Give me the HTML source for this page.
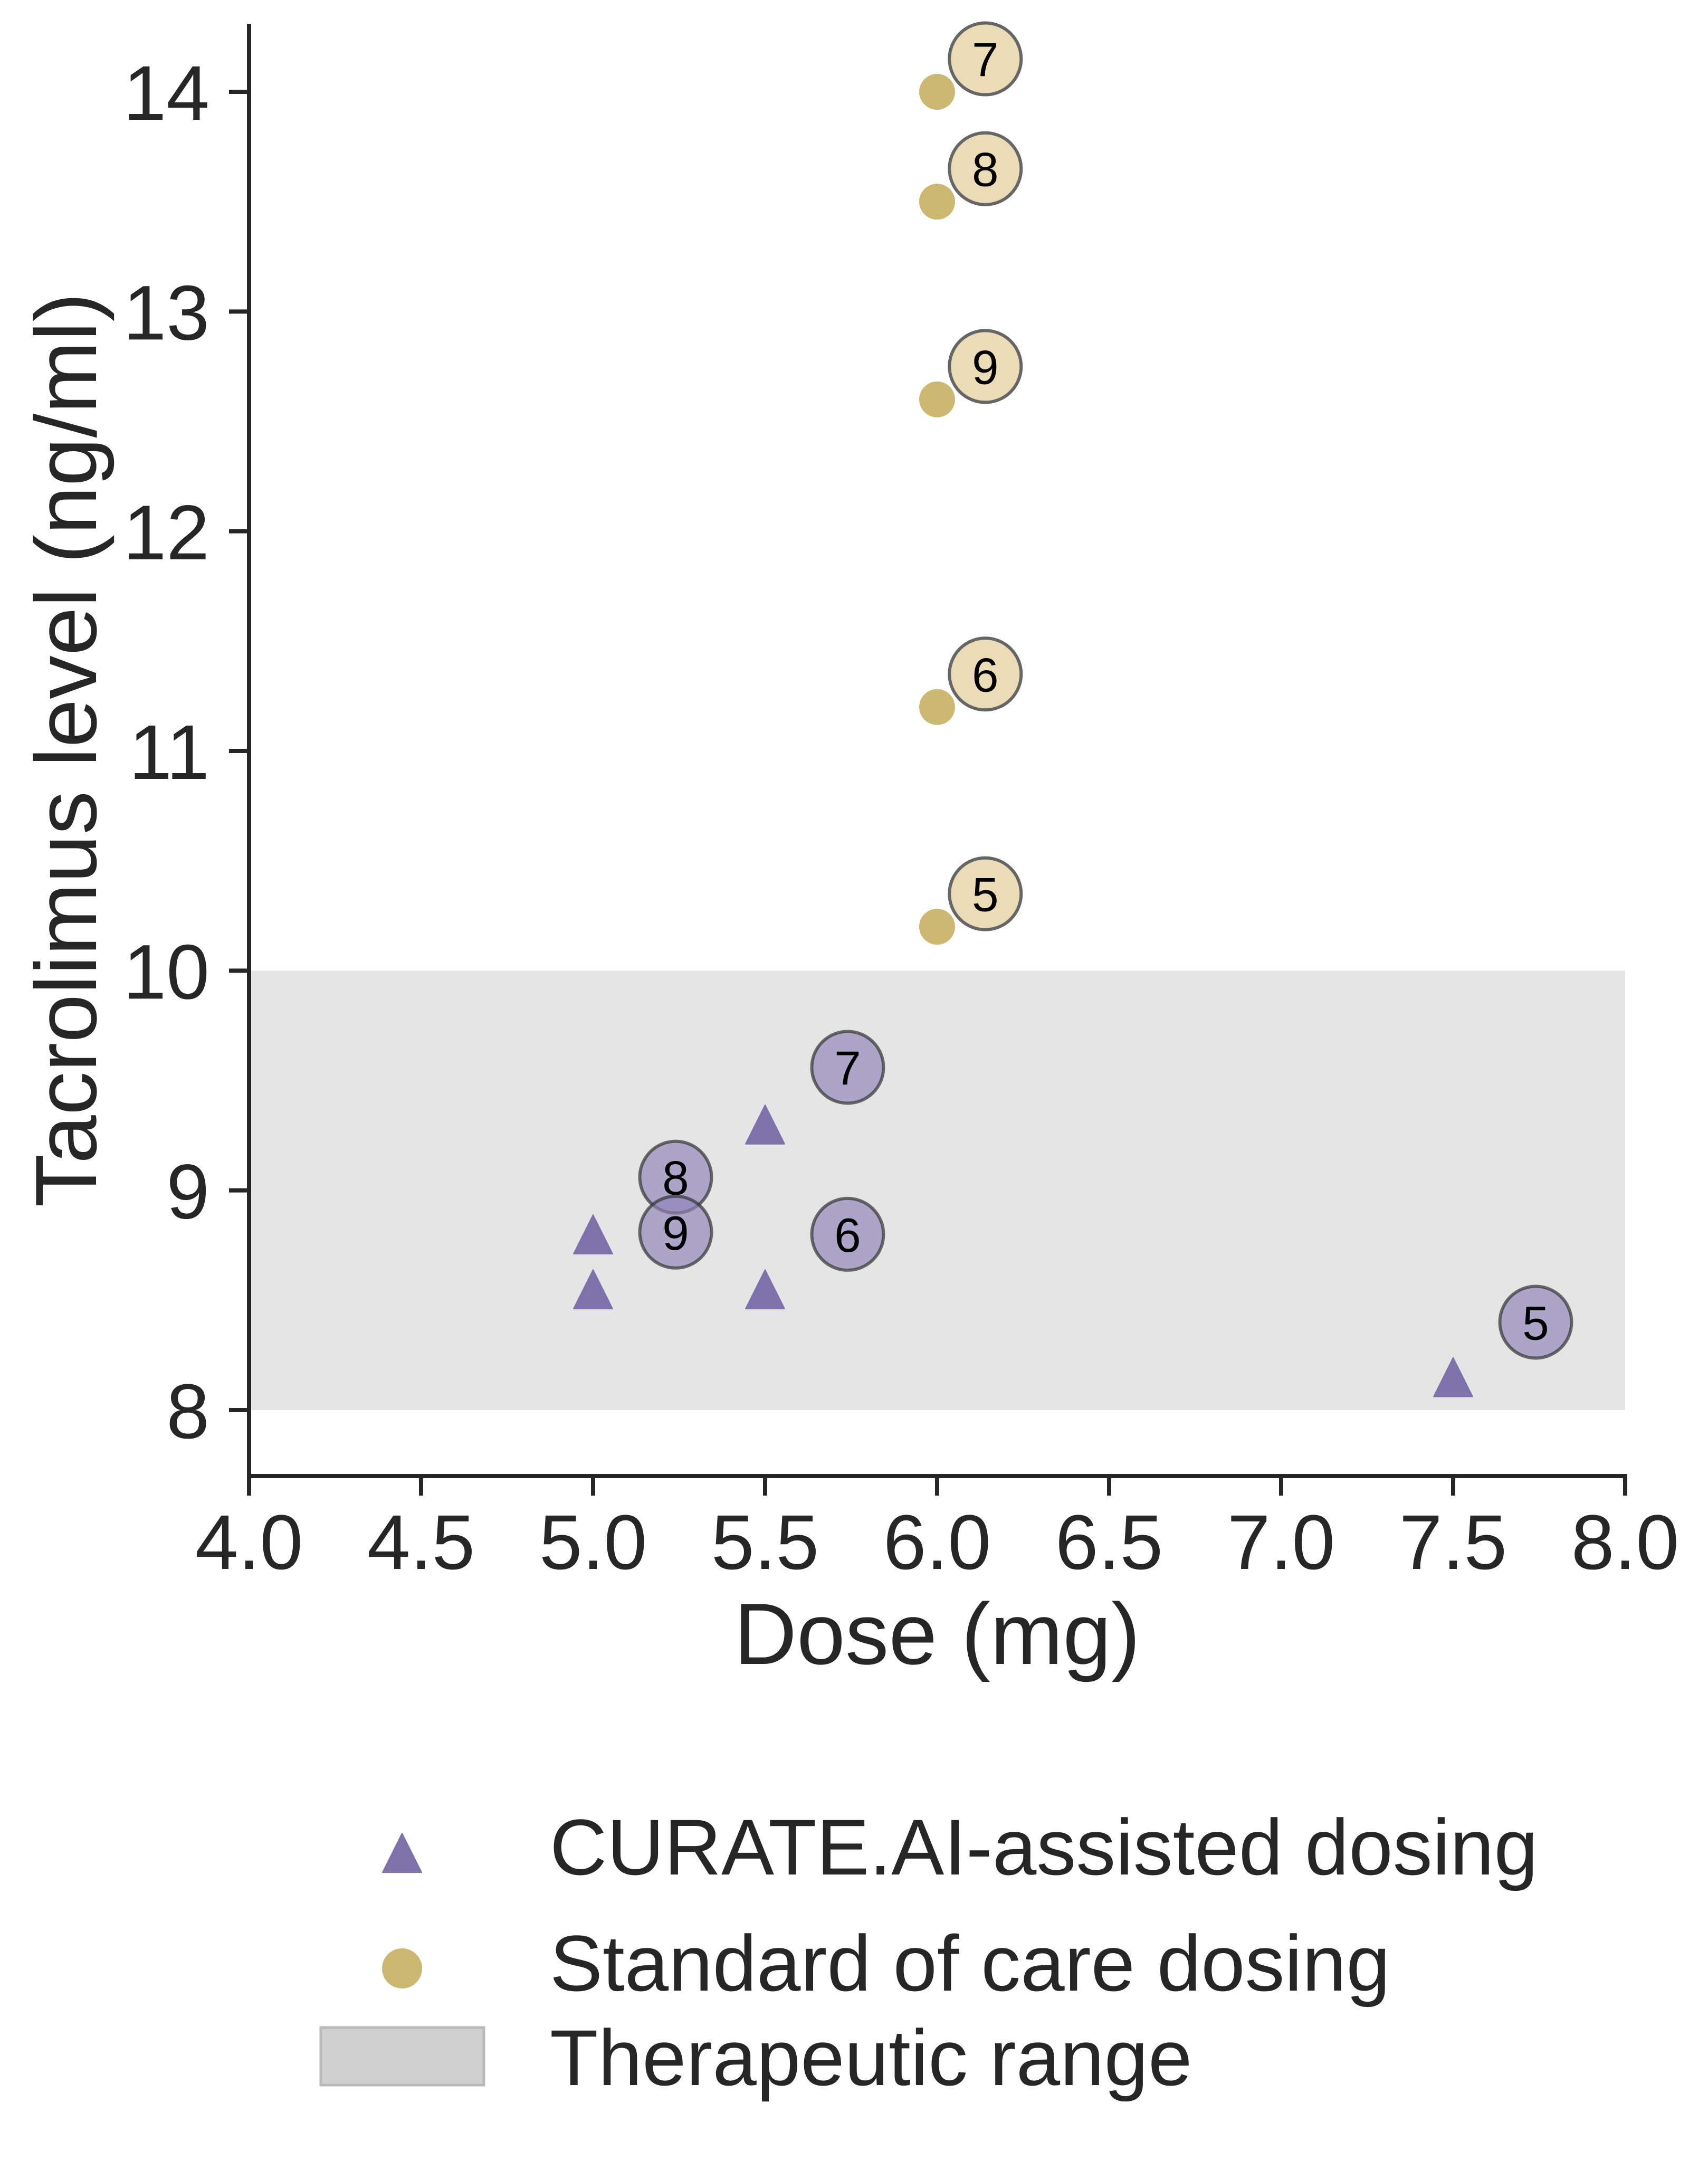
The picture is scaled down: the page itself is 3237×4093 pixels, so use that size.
<!DOCTYPE html>
<html><head><meta charset="utf-8"><style>
html,body{margin:0;padding:0;background:#fff;}
svg{display:block;}
text{font-family:"Liberation Sans",Arial,sans-serif;fill:#262626;}
</style></head><body>
<svg id="chart" width="3237" height="4093" viewBox="0 0 3237 4093" xmlns="http://www.w3.org/2000/svg">
<g id="plot"></g>
</svg>
<script>
const xTicks=[4.0,4.5,5.0,5.5,6.0,6.5,7.0,7.5,8.0];
const xTickLabels=["4.0","4.5","5.0","5.5","6.0","6.5","7.0","7.5","8.0"];
const yTicks=[8,9,10,11,12,13,14];
const yTickLabels=["8","9","10","11","12","13","14"];
const rangeLow=8, rangeHigh=10;
const aiDose=[5.0,5.0,5.5,5.5,7.5];
const aiLevel=[8.8,8.55,9.3,8.55,8.15];
const aiLabelDose=[7.74,5.74,5.74,5.24,5.24];
const aiLabelLevel=[8.4,8.8,9.56,9.06,8.81];
const aiLabels=["5","6","7","8","9"];
const socDose=[6.0,6.0,6.0,6.0,6.0];
const socLevel=[10.2,11.2,14.0,13.5,12.6];
const socLabelDose=[6.14,6.14,6.14,6.14,6.14];
const socLabelLevel=[10.35,11.35,14.15,13.65,12.75];
const socLabels=["5","6","7","8","9"];

const NS="http://www.w3.org/2000/svg";
const g=document.getElementById('plot');
const X0=472,X1=3080,Y0=2672,Y1=174;
const xs=v=>X0+(v-4)*(X1-X0)/4;
const ys=v=>Y0-(v-8)*(Y0-Y1)/6;
function mk(tag,attrs,parent){const e=document.createElementNS(NS,tag);for(const k in attrs)e.setAttribute(k,attrs[k]);(parent||g).appendChild(e);return e;}

let band=mk('rect',{x:xs(4),y:ys(rangeHigh),width:xs(8)-xs(4),height:ys(rangeLow)-ys(rangeHigh),fill:'#e5e5e5'});



let ya=mk('line',{x1:X0,y1:45,x2:X0,y2:2797,stroke:'#262626','stroke-width':8});


let xa=mk('line',{x1:X0-4,y1:2797,x2:X1+4,y2:2797,stroke:'#262626','stroke-width':8});



xTicks.forEach((v,i)=>{
  let t=mk('line',{x1:xs(v),y1:2797,x2:xs(v),y2:2834,stroke:'#262626','stroke-width':8});
  
  
  let l=mk('text',{x:xs(v),y:2973,'font-size':147,'text-anchor':'middle'});
  l.textContent=xTickLabels[i];
  
  
});
yTicks.forEach((v,i)=>{
  let t=mk('line',{x1:X0-38,y1:ys(v),x2:X0,y2:ys(v),stroke:'#262626','stroke-width':8});
  
  
  let l=mk('text',{x:397,y:ys(v)+53,'font-size':147,'text-anchor':'end'});
  l.textContent=yTickLabels[i];
  
  
});
let xt=mk('text',{x:1776,y:3153,'font-size':165,'text-anchor':'middle'});
xt.textContent='Dose (mg)';


let yt=mk('text',{x:0,y:0,'font-size':165,'text-anchor':'middle',transform:'translate(182,1421) rotate(-90)'});
yt.textContent='Tacrolimus level (ng/ml)';



function tri(cx,cy,s,fill){return mk('path',{d:`M${cx},${cy-s} L${cx-s},${cy+s} L${cx+s},${cy+s} Z`,fill:fill,'stroke':fill,'stroke-width':2,'stroke-linejoin':'round'});}

socDose.forEach((d,i)=>{
  let c=mk('circle',{cx:xs(d),cy:ys(socLevel[i]),r:34,fill:'#cdb872'});
  
  
});
socLabelDose.forEach((d,i)=>{
  let c=mk('circle',{cx:xs(d),cy:ys(socLabelLevel[i]),r:68,fill:'#e8dab3',stroke:'#666','stroke-width':6,'fill-opacity':0.95});
  
  
  let t=mk('text',{x:xs(d),y:ys(socLabelLevel[i])+33,'font-size':91,'text-anchor':'middle',style:'fill:#000'});
  t.textContent=socLabels[i];
  
  
});
aiDose.forEach((d,i)=>{
  let p=tri(xs(d),ys(aiLevel[i]),37,'#7e72aa');
  
  
});
aiLabelDose.forEach((d,i)=>{
  let c=mk('circle',{cx:xs(d),cy:ys(aiLabelLevel[i]),r:68,fill:'#8e83b8','fill-opacity':0.65,stroke:'#333','stroke-opacity':0.7,'stroke-width':6});
  
  
  let t=mk('text',{x:xs(d),y:ys(aiLabelLevel[i])+33,'font-size':91,'text-anchor':'middle',style:'fill:#000'});
  t.textContent=aiLabels[i];
  
  
});

const lg=mk('g',{});


let lt=tri(762,3511,37,'#7e72aa'); lg.appendChild(lt);


let l1=mk('text',{x:1042,y:3552,'font-size':150},lg); l1.textContent='CURATE.AI-assisted dosing';


let lc=mk('circle',{cx:762,cy:3730,r:38,fill:'#cdb872'},lg);


let l2=mk('text',{x:1042,y:3772,'font-size':150},lg); l2.textContent='Standard of care dosing';


let lr=mk('rect',{x:608,y:3842,width:309,height:109,fill:'#d0d0d0',stroke:'#b8b8b8','stroke-width':5},lg);


let l3=mk('text',{x:1042,y:3951,'font-size':150},lg); l3.textContent='Therapeutic range';


</script>
</body></html>
